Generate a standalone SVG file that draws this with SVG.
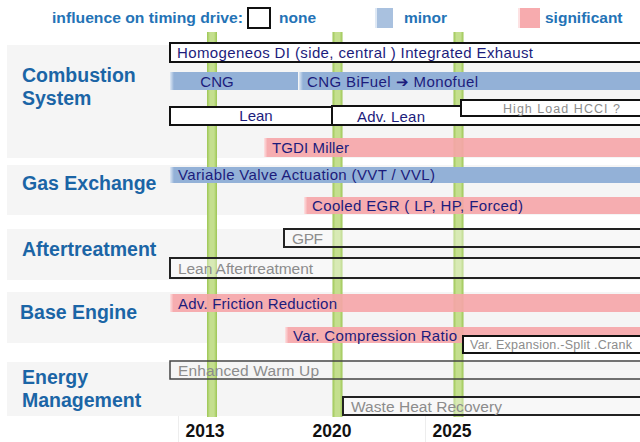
<svg xmlns="http://www.w3.org/2000/svg" width="640" height="442" viewBox="0 0 640 442">
<defs>
<linearGradient id="green" x1="0" y1="0" x2="1" y2="0">
<stop offset="0" stop-color="#9cc653"/>
<stop offset="0.3" stop-color="#c4df8e"/>
<stop offset="0.7" stop-color="#c4df8e"/>
<stop offset="1" stop-color="#9cc653"/>
</linearGradient>
<linearGradient id="blueL" x1="0" y1="0" x2="1" y2="0">
<stop offset="0" stop-color="#dfe9f5"/>
<stop offset="1" stop-color="#93b1d7"/>
</linearGradient>
<linearGradient id="pinkL" x1="0" y1="0" x2="1" y2="0">
<stop offset="0" stop-color="#fde2e3"/>
<stop offset="1" stop-color="#f6a5a8"/>
</linearGradient>
<style>
.band{fill:#f5f5f5}
.cat{font-family:"Liberation Sans",Arial,sans-serif;font-weight:bold;font-size:19.5px;fill:#1b65a6}
.leg{font-family:"Liberation Sans",Arial,sans-serif;font-weight:bold;font-size:15.5px;fill:#2473b6}
.yr{font-family:"Liberation Sans",Arial,sans-serif;font-weight:bold;font-size:17.5px;fill:#111}
.lbl{font-family:"Liberation Sans",Arial,sans-serif;font-size:15px;fill:#1c1c7c}
.glbl{font-family:"Liberation Sans",Arial,sans-serif;font-size:15.5px;fill:#8c8c8c}
.none{fill:#fff;stroke:#111;stroke-width:2}
.open{fill:#fff;fill-opacity:0.35;stroke:#222;stroke-width:2}
.blue{fill:#93b1d7}
.pink{fill:#f6a5a8;fill-opacity:0.9}
.gl{fill:url(#green)}
</style>
</defs>

<!-- background bands -->
<g id="bands">
<rect class="band" x="7" y="45" width="633" height="113"/>
<rect class="band" x="7" y="165" width="633" height="50"/>
<rect class="band" x="7" y="229" width="633" height="51"/>
<rect class="band" x="7" y="292" width="633" height="51"/>
<rect class="band" x="7" y="362" width="633" height="54"/>
<line x1="178.5" y1="416" x2="178.5" y2="442" stroke="#ededed" stroke-width="1"/>
<line x1="425.5" y1="416" x2="425.5" y2="442" stroke="#ededed" stroke-width="1"/>
</g>

<!-- legend -->
<g id="legend">
<text class="leg" x="52" y="23" textLength="191" lengthAdjust="spacingAndGlyphs">influence on timing drive:</text>
<rect x="248" y="8" width="22" height="20" fill="#fff" stroke="#111" stroke-width="2"/>
<text class="leg" x="279" y="23">none</text>
<rect x="375" y="8" width="18" height="20" fill="#a9c1df"/>
<rect x="375" y="8" width="2" height="20" fill="#dfe9f5"/>
<text class="leg" x="404" y="23">minor</text>
<rect x="518" y="8" width="22" height="20" fill="#f7abae"/>
<rect x="518" y="8" width="2" height="20" fill="#fde2e3"/>
<text class="leg" x="545" y="23">significant</text>
</g>

<!-- year lines -->
<g id="timeline">
<rect class="gl" x="207" y="32" width="10" height="385"/>
<rect class="gl" x="332.5" y="32" width="10" height="385"/>
<rect class="gl" x="453.5" y="32" width="10" height="385"/>
</g>

<!-- categories -->
<g id="cat-combustion"><text class="cat" x="22" y="82">Combustion</text><text class="cat" x="22" y="105">System</text></g>
<g id="cat-gas"><text class="cat" x="22" y="190">Gas Exchange</text></g>
<g id="cat-after"><text class="cat" x="22" y="256">Aftertreatment</text></g>
<g id="cat-base"><text class="cat" x="20" y="319">Base Engine</text></g>
<g id="cat-energy"><text class="cat" x="22" y="384">Energy</text><text class="cat" x="22" y="407">Management</text></g>

<!-- bars -->
<g id="homogeneos">
<rect class="none" x="170" y="43" width="475" height="19"/>
<text class="lbl" x="177" y="57.5" textLength="356">Homogeneos DI (side, central ) Integrated Exhaust</text>
</g>
<g id="cng">
<rect class="blue" x="170" y="72" width="128" height="18"/>
<rect x="170" y="72" width="4" height="18" fill="url(#blueL)"/>
<text class="lbl" x="217" y="87" text-anchor="middle">CNG</text>
</g>
<g id="cng-bifuel">
<rect class="blue" x="299" y="72" width="343" height="18"/>
<rect x="299" y="72" width="4" height="18" fill="url(#blueL)"/>
<text class="lbl" x="307" y="87" textLength="171">CNG BiFuel ➔ Monofuel</text>
</g>
<g id="lean">
<rect class="none" x="170" y="107" width="162" height="18"/>
<text class="lbl" x="256" y="121" text-anchor="middle">Lean</text>
</g>
<g id="adv-lean">
<rect class="none" x="332" y="106" width="313" height="19"/>
<text class="lbl" x="357" y="122" textLength="68">Adv. Lean</text>
</g>
<g id="hcci">
<rect class="none" x="461" y="100" width="184" height="16"/>
<text class="glbl" x="503" y="113" textLength="117" style="font-size:12.5px">High Load HCCI ?</text>
</g>
<g id="tgdi">
<rect class="pink" x="264" y="138" width="378" height="19"/>
<rect x="264" y="138" width="4" height="19" fill="url(#pinkL)"/>
<text class="lbl" x="272" y="152.5" textLength="77">TGDI Miller</text>
</g>
<g id="vvt">
<rect class="blue" x="170" y="167" width="472" height="16"/>
<rect x="170" y="167" width="4" height="16" fill="url(#blueL)"/>
<text class="lbl" x="178" y="180" textLength="257">Variable Valve Actuation (VVT / VVL)</text>
</g>
<g id="egr">
<rect class="pink" x="304" y="197" width="338" height="17"/>
<rect x="304" y="197" width="4" height="17" fill="url(#pinkL)"/>
<text class="lbl" x="312" y="210.5" textLength="211">Cooled EGR ( LP, HP, Forced)</text>
</g>
<g id="gpf">
<rect class="open" x="284" y="229" width="361" height="18"/>
<text class="glbl" x="292" y="243.5" textLength="31">GPF</text>
</g>
<g id="lean-after">
<rect class="open" x="170" y="258" width="475" height="20"/>
<text class="glbl" x="178" y="274" textLength="135">Lean Aftertreatment</text>
</g>
<g id="friction">
<rect class="pink" x="170" y="294" width="472" height="18"/>
<rect x="170" y="294" width="4" height="18" fill="url(#pinkL)"/>
<text class="lbl" x="178" y="308.5" textLength="159">Adv. Friction Reduction</text>
</g>
<g id="vcr">
<rect class="pink" x="285" y="327" width="357" height="16"/>
<rect x="285" y="327" width="4" height="16" fill="url(#pinkL)"/>
<text class="lbl" x="293" y="340.5" textLength="164">Var. Compression Ratio</text>
</g>
<g id="expansion">
<rect class="none" x="463" y="336" width="182" height="17"/>
<text class="glbl" x="470" y="349" textLength="162" style="font-size:12.5px">Var. Expansion.-Split .Crank</text>
</g>
<g id="warmup">
<rect x="170" y="361" width="475" height="18" fill="none" stroke="#444" stroke-width="1.5"/>
<text class="glbl" x="178" y="376" textLength="141">Enhanced Warm Up</text>
</g>
<g id="waste-heat">
<rect class="open" x="343" y="397" width="302" height="18"/>
<text class="glbl" x="351" y="412" textLength="151">Waste Heat Recovery</text>
</g>

<!-- years -->
<g id="years">
<text class="yr" x="205" y="437" text-anchor="middle">2013</text>
<text class="yr" x="332" y="437" text-anchor="middle">2020</text>
<text class="yr" x="452" y="437" text-anchor="middle">2025</text>
</g>
</svg>
